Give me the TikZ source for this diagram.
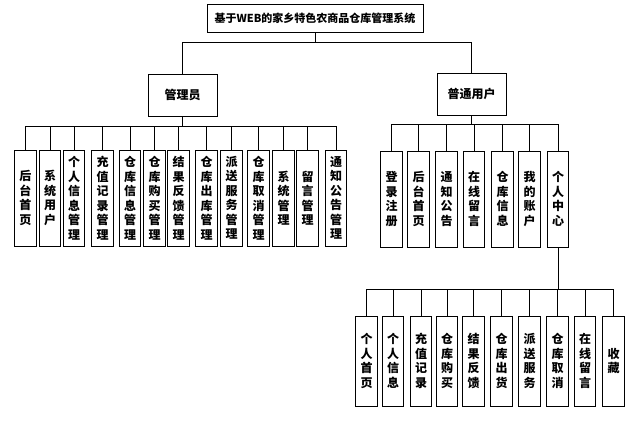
\documentclass[tikz,border=0pt]{standalone}
\usepackage{fontspec}
\newfontfamily\cjk{Noto Sans CJK SC}
\begin{document}
\begin{tikzpicture}[x=1pt,y=-1pt,
  box/.style={draw=black,line width=0.9pt,fill=white,inner sep=0pt,align=center},
  vbox/.style={box,minimum width=21.5pt,font=\cjk\bfseries\fontsize{12}{14.5}\selectfont},
  hbox/.style={box,minimum width=69pt,minimum height=42pt,font=\cjk\bfseries\fontsize{12}{14}\selectfont},
  conn/.style={draw=black,line width=0.9pt}]
\useasboundingbox (0,0) rectangle (631,420);
\fill[white] (0,0) rectangle (631,420);
% root
\node[box,minimum width=216pt,minimum height=28pt,font=\cjk\bfseries\fontsize{11}{13}\selectfont] (root) at (315,18) {基于WEB的家乡特色农商品仓库管理系统};
\node[hbox] (adm) at (182.5,95) {管理员};
\node[hbox] (usr) at (471.5,94) {普通用户};
% admin children
\begin{scope}[every node/.style={vbox,minimum height=96pt}]
\node (a1) at (25.5,198) {后\\台\\首\\页};
\node (a2) at (50,198) {系\\统\\用\\户};
\node (a3) at (74,198) {个\\人\\信\\息\\管\\理};
\node (a4) at (102.5,198) {充\\值\\记\\录\\管\\理};
\node (a5) at (130,198) {仓\\库\\信\\息\\管\\理};
\node (a6) at (154.5,198) {仓\\库\\购\\买\\管\\理};
\node (a7) at (178.5,198) {结\\果\\反\\馈\\管\\理};
\node (a8) at (206.5,198) {仓\\库\\出\\库\\管\\理};
\node (a9) at (231.5,198) {派\\送\\服\\务\\管\\理};
\node (a10) at (258.5,198) {仓\\库\\取\\消\\管\\理};
\node (a11) at (283.5,198) {系\\统\\管\\理};
\node (a12) at (307.5,198) {留\\言\\管\\理};
\node (a13) at (336,198) {通\\知\\公\\告\\管\\理};
% user children
\node (u1) at (391.5,199) {登\\录\\注\\册};
\node (u2) at (418.5,199) {后\\台\\首\\页};
\node (u3) at (446.5,199) {通\\知\\公\\告};
\node (u4) at (474,199) {在\\线\\留\\言};
\node (u5) at (502.5,199) {仓\\库\\信\\息};
\node (u6) at (529.5,199) {我\\的\\账\\户};
\node (u7) at (558,199) {个\\人\\中\\心};
\end{scope}
% personal center children
\begin{scope}[every node/.style={vbox,minimum height=90pt}]
\node (p1) at (366.5,361) {个\\人\\首\\页};
\node (p2) at (393,361) {个\\人\\信\\息};
\node (p3) at (421,361) {充\\值\\记\\录};
\node (p4) at (447,361) {仓\\库\\购\\买};
\node (p5) at (473.5,361) {结\\果\\反\\馈};
\node (p6) at (501.5,361) {仓\\库\\出\\货};
\node (p7) at (529.5,361) {派\\送\\服\\务};
\node (p8) at (557.5,361) {仓\\库\\取\\消};
\node (p9) at (585,361) {在\\线\\留\\言};
\node (p10) at (613.5,361) {收\\藏};
\end{scope}
% connectors
\foreach \c in {adm,usr} \draw[conn] (root.south) -- ++(0,10) -| (\c.north);
\foreach \i in {1,...,13} \draw[conn] (adm.south) -- ++(0,10) -| (a\i.north);
\foreach \i in {1,...,7} \draw[conn] (usr.south) -- ++(0,9) -| (u\i.north);
\foreach \i in {1,...,10} \draw[conn] (u7.south) -- ++(0,42) -| (p\i.north);
\end{tikzpicture}
\end{document}
